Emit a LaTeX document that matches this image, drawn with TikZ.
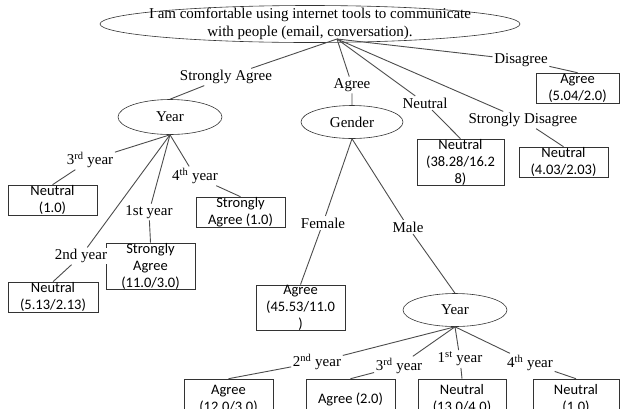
\documentclass[tikz,border=0pt]{standalone}
\usepackage{fontspec}
\setmainfont{Liberation Serif}
\newfontfamily\boxfont{Carlito}
\usetikzlibrary{shapes}
\begin{document}
\begin{tikzpicture}[x=1pt,y=-1pt,semithick]
\tikzstyle{every node}=[font=\fontsize{15}{18}\selectfont]
\tikzstyle{split}=[ellipse,draw=black!80,inner sep=0pt]
\tikzstyle{branch}=[inner sep=1.5pt,fill=white]
\tikzstyle{leaf}=[rectangle,draw=black!80,minimum width=89pt,minimum height=30pt,inner sep=0pt,align=center,font=\boxfont\fontsize{14.5}{17}\selectfont]
\tikzstyle{conn}=[draw=black!70,line width=0.9pt]
\useasboundingbox (0,0) rectangle (620,408);
% root question
\node[split,minimum width=420pt,minimum height=37pt] (root) at (310,24) {};
\node[align=center] (roottxt) at (310,24) {I am comfortable using internet tools to communicate\\with people (email, conversation).};
\coordinate (rootb) at (337,39);
% inner splits
\node[split,minimum width=104pt,minimum height=35pt] (yearA) at (170,117) {Year};
\node[split,minimum width=102pt,minimum height=33pt] (gender) at (352,122) {Gender};
\node[split,minimum width=104pt,minimum height=33pt] (yearB) at (455,310) {Year};
% leaves
\node[leaf] (nA3) at (52.5,200) {Neutral\\(1.0)};
\node[leaf] (nA4) at (240.5,212) {Strongly\\Agree (1.0)};
\node[leaf,minimum height=44pt] (nA1) at (150.5,266) {Strongly\\Agree\\(11.0/3.0)};
\node[leaf,minimum width=90pt] (nA2) at (53,297) {Neutral\\(5.13/2.13)};
\node[leaf,minimum width=87pt,minimum height=44pt] (nNe) at (460.5,162) {Neutral\\(38.28/16.2\\8)};
\node[leaf] (nSD) at (563.5,162) {Neutral\\(4.03/2.03)};
\node[leaf,minimum width=83pt] (nDi) at (577.5,88) {Agree\\(5.04/2.0)};
\node[leaf,minimum height=29pt] (nFe) at (300.5,307.5) {Agree\\(45.53/11.0\\)};
\node[leaf,minimum height=40pt] (nB2) at (228.5,399) {Agree\\(12.0/3.0)};
\node[leaf,minimum height=40pt] (nB3) at (350.5,399) {Agree (2.0)};
\node[leaf,minimum width=88pt,minimum height=40pt] (nB1) at (462,399) {Neutral\\(13.0/4.0)};
\node[leaf,minimum width=86pt,minimum height=40pt] (nB4) at (576,399) {Neutral\\(1.0)};
% branch labels
\node[branch] (lSA) at (226,77) {Strongly Agree};
\node[branch] (lAg) at (352,85) {Agree};
\node[branch] (lNe) at (425,103) {Neutral};
\node[branch] (lSD) at (523,120) {Strongly Disagree};
\node[branch] (lDi) at (521,60) {Disagree};
\node[branch] (a3) at (90,160) {3\textsuperscript{rd} year};
\node[branch] (a4) at (195,176) {4\textsuperscript{th} year};
\node[branch] (a1) at (149,212) {1st year};
\node[branch] (a2) at (81,256) {2nd year};
\node[branch] (lFe) at (323,223) {Female};
\node[branch] (lMa) at (408,227) {Male};
\node[branch] (b2) at (317,362) {2\textsuperscript{nd} year};
\node[branch] (b3) at (399,366) {3\textsuperscript{rd} year};
\node[branch] (b1) at (460,359) {1\textsuperscript{st} year};
\node[branch] (b4) at (530,363) {4\textsuperscript{th} year};
% connectors
\draw[conn] (rootb) -- (lSA) (lSA) -- (yearA.north);
\draw[conn] (rootb) -- (lAg) (lAg) -- (gender.north);
\draw[conn] (rootb) -- (lNe) (lNe) -- (nNe.north);
\draw[conn] (rootb) -- (lSD) (lSD) -- (nSD.north);
\draw[conn] (rootb) -- (lDi) (lDi) -- (nDi.north);
\draw[conn] (yearA.south) -- (a3) (a3) -- (nA3.north);
\draw[conn] (yearA.south) -- (a4) (a4) -- (nA4.north);
\draw[conn] (yearA.south) -- (a1) (a1) -- (nA1.north);
\draw[conn] (yearA.south) -- (a2) (a2) -- (nA2.north);
\draw[conn] (gender.south) -- (lFe) (lFe) -- (nFe.north);
\draw[conn] (gender.south) -- (lMa) (lMa) -- (yearB.north);
\draw[conn] (yearB.south) -- (b2) (b2) -- (nB2.north);
\draw[conn] (yearB.south) -- (b3) (b3) -- (nB3.north);
\draw[conn] (yearB.south) -- (b1) (b1) -- (nB1.north);
\draw[conn] (yearB.south) -- (b4) (b4) -- (nB4.north);
\end{tikzpicture}
\end{document}
